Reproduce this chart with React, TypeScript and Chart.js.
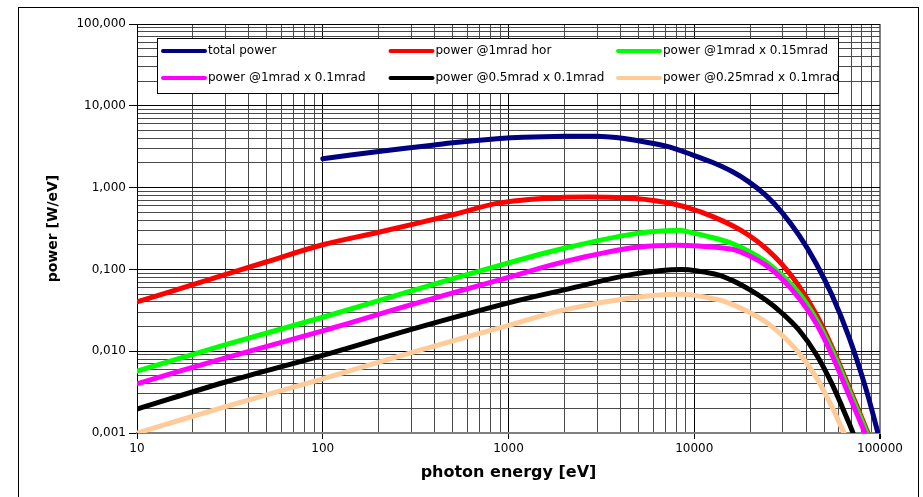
import React, { useEffect, useRef } from 'react';
import { Chart, registerables } from 'chart.js';

Chart.register(...registerables);

// ---- data ----
const seriesLabels = [
  'total power',
  'power @1mrad hor',
  'power @1mrad x 0.15mrad',
  'power @1mrad x 0.1mrad',
  'power @0.5mrad x 0.1mrad',
  'power @0.25mrad x 0.1mrad',
];
const seriesColors = ['#000080', '#FF0000', '#00FF00', '#FF00FF', '#000000', '#FFCC99'];

const totalE = [100, 200, 390, 500, 900, 1200, 2000, 3000, 3800, 4645, 7063, 9750, 12500, 16000, 19760, 24390, 29720, 36700, 45300, 55200, 68100, 84100, 97500];
const totalP = [2.258, 2.764, 3.3, 3.54, 3.98, 4.12, 4.236, 4.236, 4.096, 3.85, 3.21, 2.52, 2.04, 1.57, 1.167, 0.798, 0.495, 0.26, 0.1183, 0.0482, 0.01482, 0.00344, 0.001];

const horE = [10, 20, 50, 100, 200, 500, 900, 2000, 4300, 7063, 9750, 12500, 16000, 19760, 24390, 29720, 36700, 45300, 55200, 68100, 86100];
const horP = [0.04, 0.065, 0.124, 0.2, 0.285, 0.465, 0.65, 0.76, 0.749, 0.656, 0.547, 0.445, 0.344, 0.26, 0.18, 0.115, 0.0621, 0.0283, 0.0112, 0.00364, 0.001];

const v015E = [10, 30, 100, 294, 1000, 2050, 4640, 8300, 9750, 12500, 16000, 19760, 24390, 29720, 36700, 45300, 55200, 68100, 85100];
const v015P = [0.0057, 0.012, 0.026, 0.054, 0.12, 0.184, 0.27, 0.3, 0.28, 0.2455, 0.2075, 0.1658, 0.1235, 0.0845, 0.051, 0.0246, 0.01028, 0.00334, 0.001];

const v01E = [10, 30, 100, 300, 1000, 2050, 4640, 7500, 10600, 16000, 19760, 24390, 29720, 36700, 45300, 55200, 68100, 83000];
const v01P = [0.004, 0.0083, 0.0177, 0.037, 0.08, 0.126, 0.184, 0.197, 0.193, 0.176, 0.147, 0.112, 0.0765, 0.0443, 0.0219, 0.00894, 0.0029, 0.001];

const h05E = [10, 30, 100, 300, 1000, 2050, 4640, 8600, 13120, 16000, 19760, 24390, 29720, 36700, 45300, 55200, 68100, 71600];
const h05P = [0.00196, 0.0042, 0.0089, 0.0185, 0.039, 0.057, 0.087, 0.1, 0.0869, 0.0734, 0.057, 0.0419, 0.0291, 0.01803, 0.00919, 0.00396, 0.001324, 0.001];

const h025E = [10, 30, 100, 300, 1000, 2050, 4640, 8600, 13120, 16000, 19760, 24390, 29720, 36700, 45300, 55200, 64000];
const h025P = [0.001, 0.0021, 0.0046, 0.0096, 0.0207, 0.0325, 0.045, 0.0496, 0.0431, 0.0374, 0.0299, 0.0226, 0.01567, 0.00946, 0.00482, 0.00207, 0.001];

const xDecades = [10, 100, 1000, 10000, 100000];
const yDecades = [0.001, 0.01, 0.1, 1, 10, 100];
const minorSteps = [1, 2, 3, 4, 5, 6, 7, 8, 9];

const xTitle = 'photon energy [eV]';
const yTitle = 'power [W/eV]';

// ---- helpers ----
const isPow10 = (v: number) => {
  const l = Math.log10(v);
  return Math.abs(l - Math.round(l)) < 1e-9;
};
const buildTicks = (decades: number[]) => {
  const out: { value: number }[] = [];
  const last = decades[decades.length - 1];
  decades.forEach((d) => {
    minorSteps.forEach((m) => {
      const v = Number((d * m).toPrecision(12));
      if (v <= last) out.push({ value: v });
    });
  });
  return out;
};
const pts = (xs: number[], ys: number[]) => xs.map((x, i) => ({ x, y: ys[i] }));

const seriesData = [
  pts(totalE, totalP),
  pts(horE, horP),
  pts(v015E, v015P),
  pts(v01E, v01P),
  pts(h05E, h05P),
  pts(h025E, h025P),
];

const FONT = '"DejaVu Sans", Arial, sans-serif';

const framePlugin = {
  id: 'frameAndLegend',
  beforeDraw(chart: any) {
    const ctx = chart.ctx;
    ctx.save();
    ctx.fillStyle = '#ffffff';
    ctx.fillRect(0, 0, chart.width, chart.height);
    ctx.restore();
  },
  afterDraw(chart: any) {
    const ctx = chart.ctx;
    ctx.save();
    // outer frame
    ctx.strokeStyle = '#000';
    ctx.lineWidth = 1;
    ctx.strokeRect(18.5, 7.5, 900, 500);
    // legend box
    const bx = 157.5, by = 38.5, bw = 681, bh = 55;
    ctx.fillStyle = '#fff';
    ctx.fillRect(bx, by, bw, bh);
    ctx.strokeRect(bx, by, bw, bh);
    ctx.font = '12px ' + FONT;
    ctx.textBaseline = 'middle';
    ctx.textAlign = 'left';
    chart.data.datasets.forEach((ds: any, i: number) => {
      const col = i % 3;
      const row = Math.floor(i / 3);
      const x0 = 163 + col * 227.5;
      const y = 51 + row * 27;
      ctx.strokeStyle = ds.borderColor;
      ctx.lineWidth = 4;
      ctx.lineCap = 'round';
      ctx.beginPath();
      ctx.moveTo(x0, y);
      ctx.lineTo(x0 + 42, y);
      ctx.stroke();
      ctx.fillStyle = '#000';
      ctx.fillText(ds.label, x0 + 45, y);
    });
    ctx.restore();
  },
};

export default function App() {
  const ref = useRef<HTMLCanvasElement | null>(null);

  useEffect(() => {
    if (!ref.current) return;
    const chart = new Chart(ref.current, {
      type: 'line',
      data: {
        datasets: seriesData.map((d, i) => ({
          label: seriesLabels[i],
          data: d,
          borderColor: seriesColors[i],
          backgroundColor: seriesColors[i],
          borderWidth: 5,
          pointRadius: 0,
          fill: false,
          tension: 0.35,
          borderCapStyle: 'round',
          borderJoinStyle: 'round',
          order: seriesData.length - i,
        })),
      },
      options: {
        responsive: false,
        animation: false,
        events: [],
        layout: { padding: { left: 40, top: 24, right: 43, bottom: 15 } },
        plugins: {
          legend: { display: false },
          tooltip: { enabled: false },
        },
        scales: {
          x: {
            type: 'logarithmic',
            min: 10,
            max: 100000,
            afterBuildTicks: (scale: any) => {
              scale.ticks = buildTicks(xDecades);
            },
            afterFit: (scale: any) => {
              scale.height = 49;
            },
            ticks: {
              autoSkip: false,
              maxRotation: 0,
              padding: 3,
              color: '#000',
              font: { family: FONT, size: 12 },
              callback: (v: any) => (isPow10(Number(v)) ? String(Math.round(Number(v))) : ''),
            },
            grid: {
              color: (c: any) => (c.tick && c.tick.value === 100000 ? '#808080' : isPow10(c.tick ? c.tick.value : 1) ? '#000' : '#4a4a4a'),
              lineWidth: (c: any) => (c.tick && c.tick.value === 100000 ? 2 : 1),
              tickLength: 6,
              tickColor: (c: any) => (c.tick && isPow10(c.tick.value) ? '#000' : 'rgba(0,0,0,0)'),
            },
            border: { color: '#808080', width: 2 },
            title: {
              display: true,
              text: xTitle,
              color: '#000',
              font: { family: FONT, size: 16, weight: 'bold' },
              padding: { top: 0, bottom: 0 },
            },
          },
          y: {
            type: 'logarithmic',
            min: 0.001,
            max: 100,
            afterBuildTicks: (scale: any) => {
              scale.ticks = buildTicks(yDecades);
            },
            afterFit: (scale: any) => {
              scale.width = 97;
            },
            ticks: {
              autoSkip: false,
              padding: 3,
              color: '#000',
              font: { family: FONT, size: 12 },
              callback: (v: any) => (isPow10(Number(v)) ? Number(v).toFixed(3).replace('.', ',') : ''),
            },
            grid: {
              color: (c: any) => (c.tick && isPow10(c.tick.value) ? '#000' : '#4a4a4a'),
              lineWidth: 1,
              tickLength: 8,
              tickColor: (c: any) => (c.tick && isPow10(c.tick.value) ? '#000' : 'rgba(0,0,0,0)'),
            },
            border: { color: '#000', width: 1 },
            title: {
              display: true,
              text: yTitle,
              color: '#000',
              font: { family: FONT, size: 14, weight: 'bold' },
              padding: { top: 5, bottom: 0 },
            },
          },
        },
      } as any,
      plugins: [framePlugin],
    } as any);
    return () => chart.destroy();
  }, []);

  return (
    <div style={{ position: 'absolute', left: 0, top: 0, width: 923, height: 497 }}>
      <canvas ref={ref} width={923} height={497} style={{ display: 'block', width: 923, height: 497 }} />
    </div>
  );
}
